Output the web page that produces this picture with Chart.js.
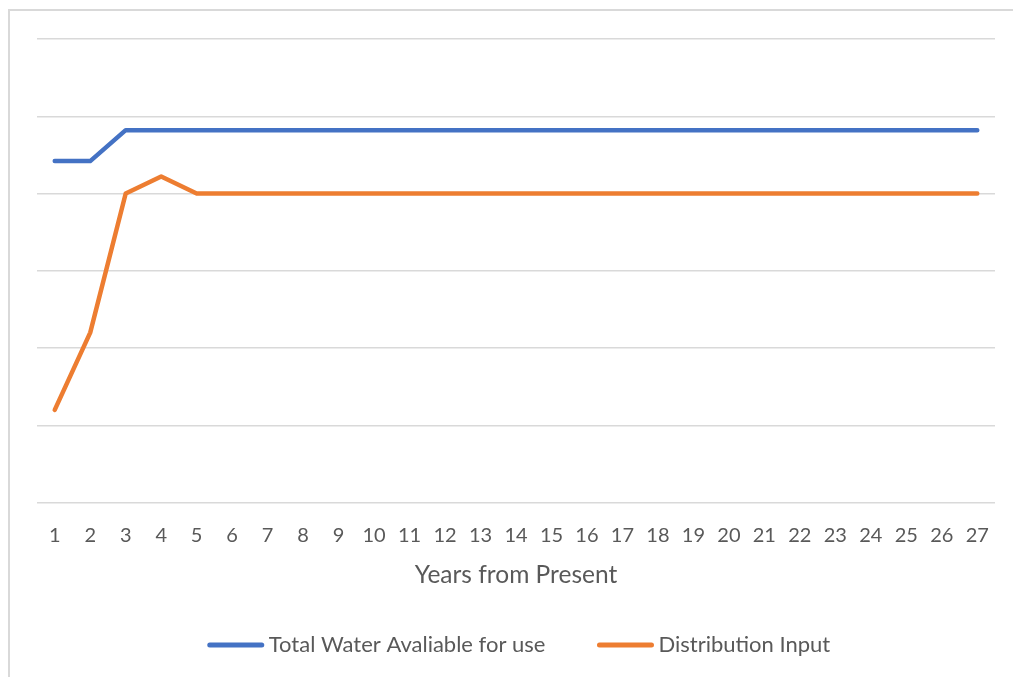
<!DOCTYPE html>
<html>
<head>
<meta charset="utf-8">
<script src="https://cdn.jsdelivr.net/npm/chart.js@4.4.1/dist/chart.umd.min.js"></script>
<style>
  html, body { margin: 0; padding: 0; background: #fff; }
  #box {
    position: absolute; left: 8px; top: 9px;
    width: 1005px; height: 668px;
    border-left: 2px solid #d9d9d9; border-top: 2px solid #d9d9d9;
    box-sizing: border-box;
  }
  #chart { display: block; }
</style>
</head>
<body>
<div id="box"><canvas id="chart" width="1003" height="666"></canvas></div>
<script>
// years from present
const years = [1,2,3,4,5,6,7,8,9,10,11,12,13,14,15,16,17,18,19,20,21,22,23,24,25,26,27];

// values (y axis has no labels, grid step = 10)
const totalWater = [44.2,44.2,48.2,48.2,48.2,48.2,48.2,48.2,48.2,48.2,48.2,48.2,48.2,48.2,
                    48.2,48.2,48.2,48.2,48.2,48.2,48.2,48.2,48.2,48.2,48.2,48.2,48.2];
const distInput = [12,22,40,42.2,40,40,40,40,40,40,40,40,40,40,
                   40,40,40,40,40,40,40,40,40,40,40,40,40];

const FONT = 'Lato, Calibri, sans-serif';
const TEXT_COLOR = '#595959';

// legend drawn by hand: long line sample sitting right against the label
const lineLegend = {
    id: 'lineLegend',
    afterDraw(chart) {
        const c = chart.ctx;
        const lineLen = 56, gap = 5, spacing = 52;
        const y = 634;
        c.save();
        c.font = '22px ' + FONT;
        c.textBaseline = 'middle';
        const items = chart.data.datasets.map(ds => ({ ds, w: c.measureText(ds.label).width }));
        let total = spacing * (items.length - 1);
        items.forEach(it => { total += lineLen + gap + it.w; });
        let x = (chart.chartArea.left + chart.chartArea.right) / 2 - total / 2 + 3;
        items.forEach(it => {
            c.strokeStyle = it.ds.borderColor;
            c.lineWidth = 5;
            c.lineCap = 'round';
            c.beginPath();
            c.moveTo(x + 2, y);
            c.lineTo(x + lineLen - 2, y);
            c.stroke();
            x += lineLen + gap;
            c.fillStyle = TEXT_COLOR;
            c.fillText(it.ds.label, x, y);
            x += it.w + spacing;
        });
        c.restore();
    }
};

const ctx = document.getElementById('chart').getContext('2d');
new Chart(ctx, {
    type: 'line',
    data: {
        labels: years,
        datasets: [
            {
                label: 'Total Water Avaliable for use',
                data: totalWater,
                borderColor: '#4472c4',
                borderWidth: 4.5,
                borderCapStyle: 'round',
                borderJoinStyle: 'round',
                pointRadius: 0,
                tension: 0
            },
            {
                label: 'Distribution Input',
                data: distInput,
                borderColor: '#ed7d31',
                borderWidth: 4.5,
                borderCapStyle: 'round',
                borderJoinStyle: 'round',
                pointRadius: 0,
                tension: 0
            }
        ]
    },
    plugins: [lineLegend],
    options: {
        responsive: false,
        animation: false,
        layout: { padding: { left: 27, right: 18, top: 28, bottom: 87 } },
        plugins: {
            tooltip: { enabled: false },
            legend: { display: false }
        },
        scales: {
            x: {
                offset: true,
                grid: { display: false, drawTicks: false },
                border: { display: false },
                ticks: {
                    color: TEXT_COLOR,
                    font: { family: FONT, size: 20 },
                    padding: 21,
                    maxRotation: 0,
                    autoSkip: false
                },
                title: {
                    display: true,
                    text: 'Years from Present',
                    color: TEXT_COLOR,
                    font: { family: FONT, size: 24.5 },
                    padding: { top: -8, bottom: 0 }
                }
            },
            y: {
                min: 0,
                max: 60,
                ticks: { display: false, stepSize: 10 },
                border: { display: false },
                grid: { color: '#d9d9d9', lineWidth: 1.5, drawTicks: false }
            }
        }
    }
});
</script>
</body>
</html>
